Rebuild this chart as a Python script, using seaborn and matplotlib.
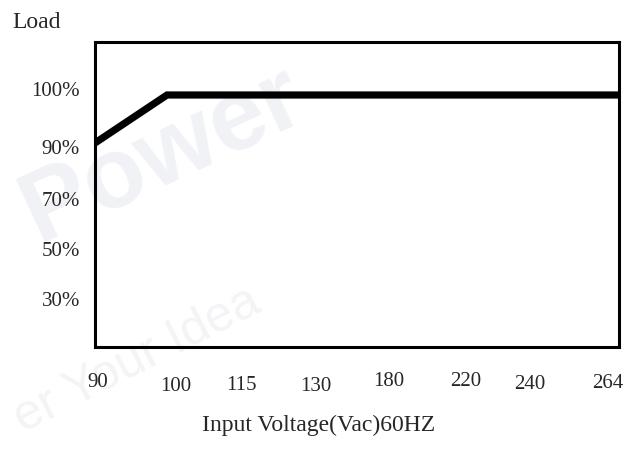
"""
Derating curve: Load vs Input Voltage (60Hz)
"""

import matplotlib
matplotlib.use("Agg")
import matplotlib.pyplot as plt
import numpy as np
import seaborn as sns

# ------------------------------------------------------------------
# Data
# ------------------------------------------------------------------
voltage_ticks = [90, 100, 115, 130, 180, 220, 240, 264]
load_ticks = [100, 90, 70, 50, 30]
load_tick_labels = ["100%", "90%", "70%", "50%", "30%"]

curve_voltage = [90, 100, 264]
curve_load = [90, 100, 100]

# ------------------------------------------------------------------
# Layout: the printed axes are not linear, so every tick gets a slot
# ------------------------------------------------------------------
x_slots = [0, 72, 146, 221, 294, 371, 435, 524]
x_label_dx = [3, 9, 0, 0, 0, 0, 0, -11]
x_label_y = [-35, -39, -38, -39, -34, -34, -37, -36]
y_slots = [252, 204, 146, 96, 46]
y_label_dy = [5, -5, 0, 0, 0]
XLIM = (0, 524)
YLIM = (0, 305)


def x_pos(v):
    return np.interp(v, voltage_ticks, x_slots)


def y_pos(p):
    order = np.argsort(load_ticks)
    return np.interp(p, np.array(load_ticks)[order], np.array(y_slots)[order])


sns.set_theme(style="white")
plt.rcParams["font.family"] = ["Liberation Serif", "DejaVu Serif"]

fig = plt.figure(figsize=(6.38, 4.52), dpi=100)
ax = fig.add_axes([95 / 638, 1 - 348 / 452, 524 / 638, 305 / 452])
ax.set_facecolor("none")

# very faint watermark behind everything
ax.text(-88, 108, "Power", fontsize=72, fontweight="bold", color="#f1f2f6",
        rotation=25, family="Liberation Sans", zorder=0, clip_on=False)
ax.text(-88, -84, "er Your Idea", fontsize=36, color="#f4f4f7",
        rotation=27, family="Liberation Sans", zorder=0, clip_on=False)

sns.lineplot(x=x_pos(curve_voltage), y=y_pos(curve_load), ax=ax,
             color="black", linewidth=5.2, solid_joinstyle="miter",
             solid_capstyle="butt", zorder=3)

ax.set_xlim(*XLIM)
ax.set_ylim(*YLIM)
ax.set_xticks([])
ax.set_yticks([])
for s in ax.spines.values():
    s.set_color("black")
    s.set_linewidth(2.2)
    s.set_zorder(4)

for lbl, ys, dy in zip(load_tick_labels, y_slots, y_label_dy):
    ax.text(-15, ys + dy, lbl, ha="right", va="center", fontsize=15,
            clip_on=False)

for v, xs, dx, yy in zip(voltage_ticks, x_slots, x_label_dx, x_label_y):
    ax.text(xs + dx, yy, str(v), ha="center", va="center", fontsize=15,
            clip_on=False)

ax.text(-58, 326, "Load", ha="center", va="center", fontsize=17, clip_on=False)
ax.text(224, -77, "Input Voltage(Vac)60HZ", ha="center", va="center",
        fontsize=17, clip_on=False)

plt.savefig("out.png", dpi=100)
plt.close()
